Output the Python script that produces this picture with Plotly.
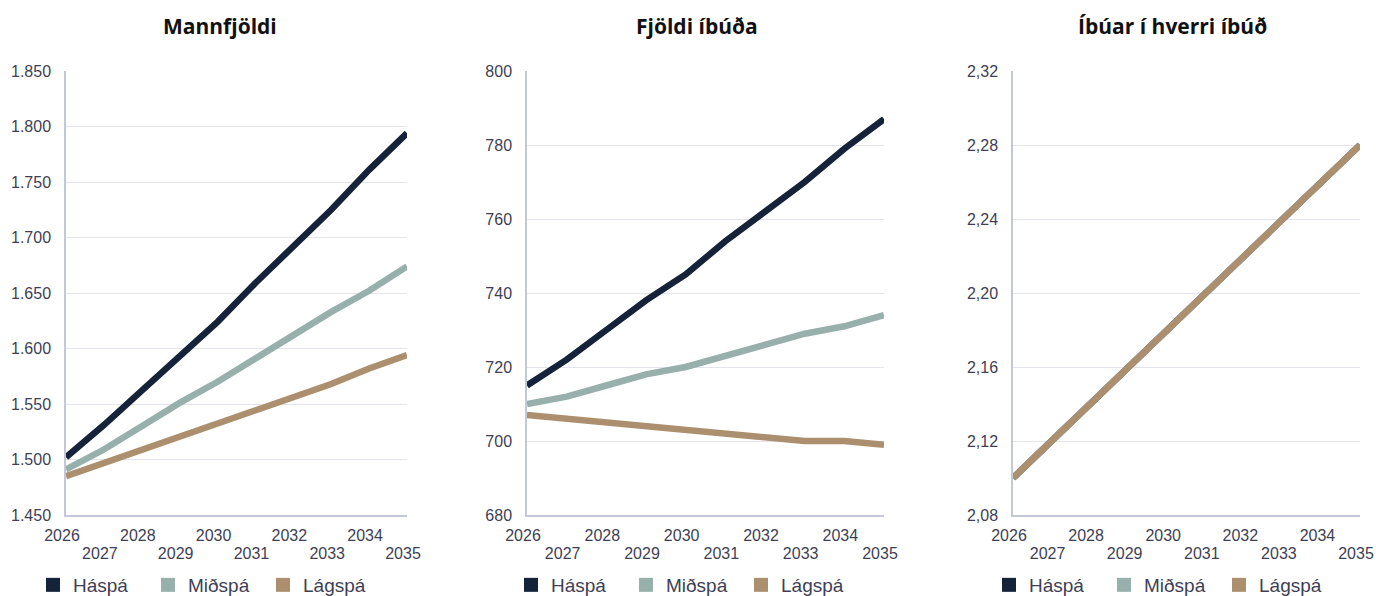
import plotly.graph_objects as go

# ---------------- data ----------------
years = [2026, 2027, 2028, 2029, 2030, 2031, 2032, 2033, 2034, 2035]
series_names = ["Háspá", "Miðspá", "Lágspá"]
series_colors = ["#15233a", "#97b0ab", "#ac8f6e"]
panel_titles = ["Mannfjöldi", "Fjöldi íbúða", "Íbúar í hverri íbúð"]

pop_high = [1502, 1531, 1562, 1594, 1624, 1659, 1692, 1725, 1761, 1794]
pop_mid = [1491, 1509, 1530, 1551, 1570, 1591, 1612, 1633, 1652, 1674]
pop_low = [1485, 1497, 1509, 1521, 1533, 1544, 1556, 1568, 1582, 1594]

dwell_high = [715, 722, 730, 738, 745, 754, 762, 770, 779, 787]
dwell_mid = [710, 712, 715, 718, 720, 723, 726, 729, 731, 734]
dwell_low = [707, 706, 705, 704, 703, 702, 701, 700, 700, 699]

ratio_high = [2.10, 2.12, 2.14, 2.16, 2.18, 2.20, 2.22, 2.24, 2.26, 2.28]
ratio_mid = [2.10, 2.12, 2.14, 2.16, 2.18, 2.20, 2.22, 2.24, 2.26, 2.28]
ratio_low = [2.10, 2.12, 2.14, 2.16, 2.18, 2.20, 2.22, 2.24, 2.26, 2.28]

even_years = [2026, 2028, 2030, 2032, 2034]
odd_years = [2027, 2029, 2031, 2033, 2035]

y_ranges = [[1450, 1850], [680, 800], [2.08, 2.32]]
y_dticks = [50, 20, 0.04]
y_formats = [",d", "d", ".2f"]

panels = [
    [pop_high, pop_mid, pop_low],
    [dwell_high, dwell_mid, dwell_low],
    [ratio_high, ratio_mid, ratio_low],
]

# ---------------- layout geometry (pixels) ----------------
W, H = 1376, 596
plot_x = [(66, 407), (527, 884), (1013, 1360)]
plot_top, plot_bottom = 71, 515
title_x = [220, 697, 1172]
legend_sq_center = [53, 531, 1009]

TICK_COLOR = "#3e3f55"
GRID_COLOR = "#e4e4ee"
AXIS_COLOR = "#c4c7d8"
FONT = "Liberation Sans, Arial, sans-serif"

fig = go.Figure()

for p in range(3):
    suffix = "" if p == 0 else str(p + 1)
    xa, ya = "x" + suffix, "y" + suffix
    for s in range(3):
        fig.add_trace(go.Scatter(
            x=years, y=panels[p][s], mode="lines", name=series_names[s],
            line=dict(color=series_colors[s], width=6.5),
            xaxis=xa, yaxis=ya, showlegend=False, hoverinfo="skip",
        ))
    # legend entries (square swatches)
    for s in range(3):
        fig.add_trace(go.Scatter(
            x=[None], y=[None], mode="markers", name=series_names[s],
            marker=dict(color=series_colors[s], size=14, symbol="square"),
            xaxis=xa, yaxis=ya, showlegend=True,
            legend="legend" + suffix,
        ))
    # empty trace so the overlaid odd-year label axis is drawn
    fig.add_trace(go.Scatter(
        x=odd_years, y=[None] * len(odd_years), mode="markers",
        xaxis="x" + str(p + 4), yaxis=ya, showlegend=False, hoverinfo="skip",
    ))

layout = dict(
    width=W, height=H,
    margin=dict(l=0, r=0, t=0, b=0, autoexpand=False),
    paper_bgcolor="white", plot_bgcolor="white",
    separators=",.",
    font=dict(family=FONT, size=16, color=TICK_COLOR),
    showlegend=True,
    annotations=[],
)

ydom = [(H - plot_bottom) / H, (H - plot_top) / H]

for p in range(3):
    suffix = "" if p == 0 else str(p + 1)
    odd_suffix = str(p + 4)
    x0, x1 = plot_x[p]
    layout["xaxis" + suffix] = dict(
        domain=[x0 / W, x1 / W], range=[2026, 2035], anchor="y" + suffix,
        tickmode="array", tickvals=even_years, ticktext=[str(v) for v in even_years],
        showgrid=False, zeroline=False, showline=True, linecolor=AXIS_COLOR, linewidth=1.5,
        ticks="", ticklabelstandoff=5, ticklabelshift=-4, ticklabeloverflow="allow",
        tickfont=dict(size=16, color=TICK_COLOR, family=FONT),
    )
    layout["xaxis" + odd_suffix] = dict(
        overlaying="x" + suffix, range=[2026, 2035], anchor="y" + suffix, side="bottom",
        tickmode="array", tickvals=odd_years, ticktext=[str(v) for v in odd_years],
        showgrid=False, zeroline=False, showline=False,
        ticks="", ticklabelstandoff=27, ticklabelshift=-4, ticklabeloverflow="allow",
        tickfont=dict(size=16, color=TICK_COLOR, family=FONT),
    )
    layout["yaxis" + suffix] = dict(
        domain=ydom, range=y_ranges[p], anchor="x" + suffix,
        tick0=y_ranges[p][0], dtick=y_dticks[p], tickformat=y_formats[p],
        showgrid=True, gridcolor=GRID_COLOR, gridwidth=1, zeroline=False,
        showline=True, linecolor=AXIS_COLOR, linewidth=1.5,
        ticks="", ticklabelstandoff=10, tickfont=dict(size=16, color=TICK_COLOR, family=FONT),
    )
    layout["legend" + suffix] = dict(
        orientation="h", x=(legend_sq_center[p] - 20) / W, xanchor="left",
        y=(H - 585) / H, yanchor="middle",
        font=dict(size=19, color=TICK_COLOR, family=FONT),
        bgcolor="rgba(0,0,0,0)", borderwidth=0,
        entrywidth=70, entrywidthmode="pixels", itemwidth=30,
        tracegroupgap=0,
    )
    layout["annotations"].append(dict(
        text="<b>" + panel_titles[p] + "</b>", x=title_x[p] / W, y=(H - 26) / H,
        xref="paper", yref="paper", xanchor="center", yanchor="middle", showarrow=False,
        font=dict(family="Open Sans, Noto Sans, sans-serif", size=21, color="#111111"),
    ))

fig.update_layout(**layout)
fig.write_html(
    "out.html",
    config={"displayModeBar": False},
    post_script="document.body.style.margin='0';document.body.style.overflow='hidden';",
)
